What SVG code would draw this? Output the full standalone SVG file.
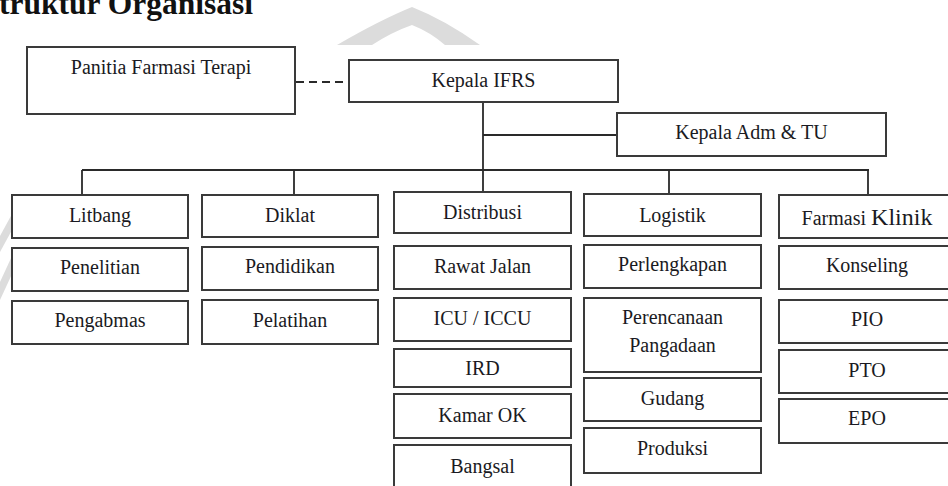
<svg xmlns="http://www.w3.org/2000/svg" width="948" height="486" viewBox="0 0 948 486">
<style>
.box{fill:#fff;stroke:#3a3a3a;stroke-width:2}
.t{font-family:"Liberation Serif","Times New Roman",serif;font-size:20px;fill:#1a1a22;text-anchor:middle}
.ln{stroke:#2a2a2a;stroke-width:1.8;fill:none}
.wm{fill:#dcdcdc}
</style>
<rect width="948" height="486" fill="#fff"/>
<g id="watermark">
<path class="wm" d="M337,45 Q380,20 412,7 Q445,20 480,45 L445,45 Q430,32 412,25 Q392,32 372,45 Z"/>
<polygon class="wm" points="12,214 12,230 0,252 0,236"/>
<polygon class="wm" points="12,256 12,274 0,300 0,282"/>
</g>
<text x="-1" y="14" font-family="Liberation Serif, Times New Roman, serif" font-size="31.5" font-weight="bold" fill="#111">truktur Organisasi</text>
<g id="connectors">
<line class="ln" x1="296" y1="82" x2="349" y2="82" stroke-dasharray="8,5" stroke-width="2"/>
<line class="ln" x1="483" y1="102" x2="483" y2="192"/>
<line class="ln" x1="483" y1="135" x2="617" y2="135"/>
<line class="ln" x1="82" y1="170" x2="869" y2="170"/>
<line class="ln" x1="82" y1="170" x2="82" y2="195"/>
<line class="ln" x1="294" y1="170" x2="294" y2="195"/>
<line class="ln" x1="669" y1="170" x2="669" y2="194"/>
<line class="ln" x1="868" y1="170" x2="868" y2="195"/>
</g>
<g id="panitia"><rect class="box" x="27" y="47" width="268" height="67"/><text class="t" x="161" y="74">Panitia Farmasi Terapi</text></g>
<g id="kepala-ifrs"><rect class="box" x="349" y="60" width="269" height="42"/><text class="t" x="483.5" y="87">Kepala IFRS</text></g>
<g id="kepala-adm"><rect class="box" x="617" y="113" width="269" height="43"/><text class="t" x="751.5" y="139">Kepala Adm &amp; TU</text></g>

<g id="litbang"><rect class="box" x="12" y="195" width="176" height="43"/><text class="t" x="100" y="222">Litbang</text></g>
<g id="penelitian"><rect class="box" x="12" y="248" width="176" height="43"/><text class="t" x="100" y="274">Penelitian</text></g>
<g id="pengabmas"><rect class="box" x="12" y="301" width="176" height="43"/><text class="t" x="100" y="327">Pengabmas</text></g>

<g id="diklat"><rect class="box" x="202" y="195" width="176" height="42"/><text class="t" x="290" y="222">Diklat</text></g>
<g id="pendidikan"><rect class="box" x="202" y="247" width="176" height="43"/><text class="t" x="290" y="273">Pendidikan</text></g>
<g id="pelatihan"><rect class="box" x="202" y="300" width="176" height="44"/><text class="t" x="290" y="327">Pelatihan</text></g>

<g id="distribusi"><rect class="box" x="394" y="192" width="177" height="41"/><text class="t" x="482.5" y="219">Distribusi</text></g>
<g id="rawat-jalan"><rect class="box" x="394" y="246" width="177" height="43"/><text class="t" x="482.5" y="273">Rawat Jalan</text></g>
<g id="icu"><rect class="box" x="394" y="298" width="177" height="43"/><text class="t" x="482.5" y="325">ICU / ICCU</text></g>
<g id="ird"><rect class="box" x="394" y="349" width="177" height="38"/><text class="t" x="482.5" y="375">IRD</text></g>
<g id="kamar-ok"><rect class="box" x="394" y="394" width="177" height="44"/><text class="t" x="482.5" y="422">Kamar OK</text></g>
<g id="bangsal"><rect class="box" x="394" y="445" width="177" height="60"/><text class="t" x="482.5" y="473">Bangsal</text></g>

<g id="logistik"><rect class="box" x="584" y="194" width="177" height="42"/><text class="t" x="672.5" y="222">Logistik</text></g>
<g id="perlengkapan"><rect class="box" x="584" y="245" width="177" height="43"/><text class="t" x="672.5" y="271">Perlengkapan</text></g>
<g id="perencanaan"><rect class="box" x="584" y="298" width="177" height="74"/><text class="t" x="672.5" y="324">Perencanaan</text><text class="t" x="672.5" y="352">Pangadaan</text></g>
<g id="gudang"><rect class="box" x="584" y="378" width="177" height="43"/><text class="t" x="672.5" y="405">Gudang</text></g>
<g id="produksi"><rect class="box" x="584" y="428" width="177" height="45"/><text class="t" x="672.5" y="455">Produksi</text></g>

<g id="farmasi-klinik"><rect class="box" x="779" y="195" width="177" height="43"/><text class="t" x="867" y="225">Farmasi <tspan font-size="24">Klinik</tspan></text></g>
<g id="konseling"><rect class="box" x="779" y="246" width="177" height="43"/><text class="t" x="867" y="272">Konseling</text></g>
<g id="pio"><rect class="box" x="779" y="300" width="177" height="43"/><text class="t" x="867" y="326">PIO</text></g>
<g id="pto"><rect class="box" x="779" y="350" width="177" height="43"/><text class="t" x="867" y="377">PTO</text></g>
<g id="epo"><rect class="box" x="779" y="399" width="177" height="44"/><text class="t" x="867" y="425">EPO</text></g>
</svg>
